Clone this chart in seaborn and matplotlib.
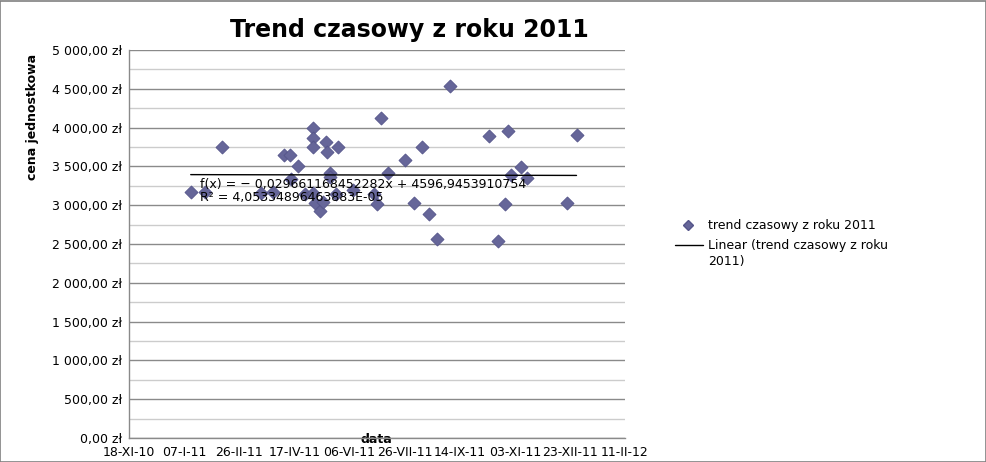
import numpy as np
import pandas as pd
import matplotlib
matplotlib.use("Agg")
import matplotlib.pyplot as plt
import matplotlib.dates as mdates
from matplotlib.ticker import FuncFormatter, MultipleLocator, FixedLocator
from matplotlib.lines import Line2D
from matplotlib.patches import Rectangle
import seaborn as sns

# ---------------- data ----------------
dates = ["2011-01-13", "2011-01-26", "2011-02-10", "2011-03-18", "2011-03-29",
         "2011-04-08", "2011-04-13", "2011-04-14", "2011-04-20", "2011-04-27",
         "2011-05-04", "2011-05-04", "2011-05-04", "2011-05-04", "2011-05-06",
         "2011-05-10", "2011-05-13", "2011-05-16", "2011-05-17", "2011-05-19",
         "2011-05-19", "2011-05-27", "2011-05-25", "2011-06-09", "2011-06-28",
         "2011-07-01", "2011-07-05", "2011-07-11", "2011-07-26", "2011-08-04",
         "2011-08-11", "2011-08-17", "2011-08-24", "2011-09-05", "2011-10-11",
         "2011-10-19", "2011-10-25", "2011-10-28", "2011-10-31", "2011-11-09",
         "2011-11-14", "2011-12-20", "2011-12-29"]
prices = [3170, 3170, 3750, 3160, 3170,
          3650, 3650, 3340, 3510, 3140,
          3990, 3860, 3750, 3155, 3030,
          2920, 3040, 3820, 3690, 3420,
          3360, 3750, 3140, 3200, 3150,
          3020, 4120, 3420, 3580, 3030,
          3750, 2890, 2560, 4530, 3890,
          2540, 3020, 3950, 3390, 3490,
          3350, 3030, 3900]

# trend line from chart's equation (x = spreadsheet date serial)
trend_slope = -0.029661168452282
trend_intercept = 4596.9453910754
trend_r2_text = "R² = 4,05334896463883E-05"
trend_eq_text = "f(x) = − 0,029661168452282x + 4596,9453910754"

x_tick_dates = ["2010-11-18", "2011-01-07", "2011-02-26", "2011-04-17", "2011-06-06",
                "2011-07-26", "2011-09-14", "2011-11-03", "2011-12-23", "2012-02-11"]
x_tick_labels = ["18-XI-10", "07-I-11", "26-II-11", "17-IV-11", "06-VI-11",
                 "26-VII-11", "14-IX-11", "03-XI-11", "23-XII-11", "11-II-12"]

title = "Trend czasowy z roku 2011"
series_name = "trend czasowy z roku 2011"
xlabel = "data"
ylabel = "cena jednostkowa"

df = pd.DataFrame({"data": pd.to_datetime(dates), "cena": prices})

# ---------------- figure ----------------
sns.set_theme(style="white")
plt.rcParams["font.family"] = ["DejaVu Sans"]
plt.rcParams["text.color"] = "black"
plt.rcParams["axes.labelcolor"] = "black"

W, H = 987, 462
fig = plt.figure(figsize=(W / 100, H / 100), dpi=100)
fig.patch.set_facecolor("white")

def fx(px):
    return px / W

def fy(py):
    return 1 - py / H

L, R, T, B = 129, 625, 50, 438
ax = fig.add_axes([fx(L), fy(B), fx(R) - fx(L), fy(T) - fy(B)])
ax.set_facecolor("white")

marker_color = "#666699"
sns.scatterplot(data=df, x="data", y="cena", ax=ax, marker="D", s=44,
                color=marker_color, edgecolor="#55558a", linewidth=0.6,
                zorder=3, legend=False)

# trend line
d0 = df["data"].min()
d1 = df["data"].max()
xs = np.array([mdates.date2num(d0), mdates.date2num(d1)])
serial = xs + 25569.0
ys = trend_slope * serial + trend_intercept
ax.plot(xs, ys, color="black", lw=1.0, zorder=4)

# axes limits and ticks
tick_nums = [mdates.date2num(pd.Timestamp(d)) for d in x_tick_dates]
ax.set_xlim(tick_nums[0], tick_nums[-1])
ax.set_ylim(0, 5000)
ax.xaxis.set_major_locator(FixedLocator(tick_nums))
ax.set_xticklabels(x_tick_labels)

def zl(v, pos):
    s = f"{v:,.2f}".replace(",", "X").replace(".", ",").replace("X", " ")
    return s + " zł"

ax.yaxis.set_major_locator(MultipleLocator(500))
ax.yaxis.set_minor_locator(MultipleLocator(250))
ax.yaxis.set_major_formatter(FuncFormatter(zl))

ax.grid(which="major", axis="y", color="#8a8a8a", lw=1.0, zorder=0)
ax.grid(which="minor", axis="y", color="#cccccc", lw=1.0, zorder=0)
ax.grid(which="major", axis="x", visible=False)

for sp in ["top", "right"]:
    ax.spines[sp].set_visible(False)
for sp in ["left", "bottom"]:
    ax.spines[sp].set_color("#8a8a8a")
    ax.spines[sp].set_linewidth(1.0)

ax.tick_params(axis="both", which="major", direction="inout", length=6,
               width=1, color="#8a8a8a", labelsize=9, labelcolor="black", pad=2)
ax.tick_params(axis="y", which="minor", length=0)
ax.tick_params(axis="x", pad=3)

ax.set_xlabel(xlabel, fontsize=9, fontweight="bold", color="black")
ax.xaxis.set_label_coords((376 - L) / (R - L), (B - 433) / (B - T))
ax.set_ylabel(ylabel, fontsize=9, fontweight="bold", color="black")
ax.yaxis.set_label_coords((39 - L) / (R - L), (B - 117) / (B - T))

# regression text
fig.text(fx(200), fy(185), trend_eq_text, fontsize=9, ha="left", va="center", color="black", zorder=5)
fig.text(fx(200), fy(198), trend_r2_text, fontsize=9, ha="left", va="center", color="black", zorder=5)

# title
fig.text(fx(409), fy(30), title, fontsize=17, fontweight="bold", ha="center", va="center", color="black")

# legend (drawn manually)
fig.add_artist(Line2D([fx(688)], [fy(225)], marker="D", markersize=5.5, color=marker_color,
                      markeredgecolor="#55558a", linestyle="none", transform=fig.transFigure))
fig.text(fx(708), fy(225), series_name, fontsize=9, ha="left", va="center", color="black")
fig.add_artist(Line2D([fx(675), fx(703)], [fy(245), fy(245)], color="black", lw=1.0,
                      transform=fig.transFigure))
fig.text(fx(708), fy(245), "Linear (trend czasowy z roku", fontsize=9, ha="left", va="center", color="black")
fig.text(fx(708), fy(261), "2011)", fontsize=9, ha="left", va="center", color="black")

# outer frame
fig.add_artist(Rectangle((0.0005, 0.001), 0.998, 0.997, transform=fig.transFigure,
                         fill=False, edgecolor="#808080", lw=1.2))

fig.savefig("out.png", dpi=100)
